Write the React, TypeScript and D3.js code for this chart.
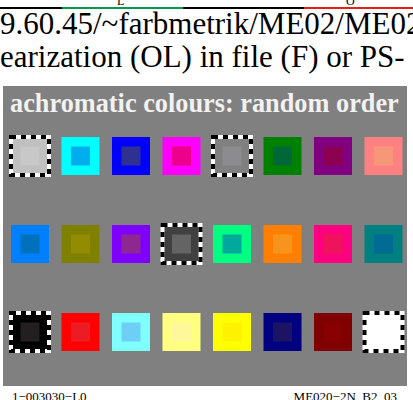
import React from "react";
import * as d3 from "d3";

const W = 413;
const H = 400;

const topSegments = ["#000000", "#009a4e", "#000000", "#e3201f"];
const topSegmentBounds = [0, 62, 183, 304, 413];
const topLabels = ["L", "O"];
const topLabelX = [117, 346];

const headerLines = [
  "9.60.45/~farbmetrik/ME02/ME02",
  "earization (OL) in file (F) or PS-",
];

const title = "achromatic colours: random order";

const outerColors = [
  "#c0c0c0", "#00ffff", "#0000ff", "#ff00ff", "#808080", "#008000", "#800080", "#ff8080",
  "#0080ff", "#808000", "#8000ff", "#404040", "#00ff80", "#ff8000", "#ff0080", "#008080",
  "#000000", "#ff0000", "#80ffff", "#ffff80", "#ffff00", "#000080", "#800000", "#ffffff",
];
const innerColors = [
  "#c8c8c9", "#00aeef", "#2e3192", "#ec008c", "#8c8c90", "#006838", "#8b0050", "#f7977a",
  "#0072bc", "#948c00", "#8e278f", "#646464", "#00a99d", "#f7941d", "#ed145b", "#006b93",
  "#231f20", "#ed1c24", "#6dcff6", "#fff799", "#fff200", "#1b1464", "#880000", "#ffffff",
];
const dashed = [
  true, false, false, false, true, false, false, false,
  false, false, false, true, false, false, false, false,
  true, false, false, false, false, false, false, true,
];

const footerLeft = "1\u2212003030\u2212L0";
const footerRight = "ME020\u22122N, B2_03";

const cols = d3.range(8);
const rows = d3.range(3);

export default function App() {
  const x = d3.scalePoint<number>().domain(cols).range([30, 383.5]);
  const y = d3.scalePoint<number>().domain(rows).range([156, 332]);
  const size = 38;
  const inner = 19;
  const serif = "'Liberation Serif', 'Times New Roman', serif";

  return (
    <svg
      width={W}
      height={H}
      style={{ position: "absolute", left: 0, top: 0, background: "#ffffff" }}
    >
      {topSegments.map((c, i) => (
        <line
          key={"seg" + i}
          x1={topSegmentBounds[i]}
          x2={topSegmentBounds[i + 1]}
          y1={8}
          y2={8}
          stroke={c}
          strokeWidth={2}
        />
      ))}
      {topLabels.map((t, i) => (
        <text key={"tl" + i} x={topLabelX[i]} y={5} fontFamily={serif} fontSize={12} fill="#000">
          {t}
        </text>
      ))}
      {headerLines.map((t, i) => (
        <text key={"h" + i} x={0} y={34 + i * 33} fontFamily={serif} fontSize={31} fill="#000">
          {t}
        </text>
      ))}
      <rect x={3} y={86} width={404} height={300} fill="#808080" />
      <text x={10} y={112} fontFamily={serif} fontSize={26.3} fontWeight="bold" fill="#f2f2f2">
        {title}
      </text>
      {outerColors.map((c, i) => {
        const cx = x(i % 8)!;
        const cy = y(Math.floor(i / 8))!;
        return (
          <g key={"sq" + i}>
            <rect x={cx - size / 2} y={cy - size / 2} width={size} height={size} fill={c} />
            {dashed[i] && (
              <>
                <rect
                  x={cx - size / 2}
                  y={cy - size / 2}
                  width={size}
                  height={size}
                  fill="none"
                  stroke="#ffffff"
                  strokeWidth={4}
                />
                <rect
                  x={cx - size / 2}
                  y={cy - size / 2}
                  width={size}
                  height={size}
                  fill="none"
                  stroke="#000000"
                  strokeWidth={4}
                  strokeDasharray="5,5"
                />
              </>
            )}
            <rect x={cx - inner / 2} y={cy - inner / 2} width={inner} height={inner} fill={innerColors[i]} />
          </g>
        );
      })}
      <text x={12} y={401} fontFamily={serif} fontSize={13} fill="#000">
        {footerLeft}
      </text>
      <text x={397} y={401} textAnchor="end" fontFamily={serif} fontSize={13} fill="#000">
        {footerRight}
      </text>
    </svg>
  );
}
